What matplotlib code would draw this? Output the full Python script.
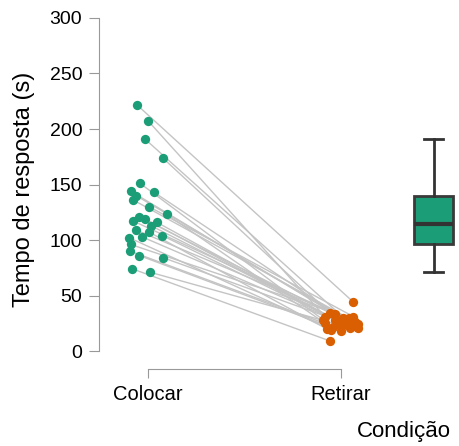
import matplotlib
matplotlib.use("Agg")
import matplotlib.pyplot as plt

plt.rcParams['font.family'] = ['Liberation Sans', 'DejaVu Sans']

# ---- data ----
categorias = ["Colocar", "Retirar"]
colocar = [222, 207, 191, 174, 151, 144, 140, 143, 136, 130, 123, 117, 121, 119,
           116, 113, 109, 107, 104, 103, 102, 96, 90, 86, 84, 74, 71]
retirar = [44, 31, 29, 34, 28, 33, 30, 26, 27, 31, 25, 24, 22, 28,
           21, 27, 26, 20, 23, 25, 19, 30, 22, 18, 21, 9, 24]
jitter_colocar = [-0.059, 0.002, -0.016, 0.076, -0.041, -0.090, -0.062, 0.031, -0.076,
                  0.005, 0.097, -0.076, -0.047, -0.016, 0.045, 0.014, -0.062, 0.007,
                  0.074, -0.033, -0.097, -0.090, -0.093, -0.045, 0.079, -0.081, 0.010]
jitter_retirar = [0.064, -0.083, 0.020, -0.057, -0.092, -0.030, 0.010, 0.040, 0.065,
                  0.064, -0.083, 0.090, 0.083, -0.031, 0.046, -0.010, 0.072, -0.075,
                  0.030, 0.010, -0.050, 0.040, -0.040, 0.000, 0.085, -0.057, -0.020]

# box statistics (Colocar)
box_stats = [{"med": 114, "q1": 96.5, "q3": 139.5, "whislo": 71.5, "whishi": 191, "fliers": []}]

verde = "#1b9e77"
laranja = "#d95f02"
cinza = "#999999"

fig = plt.figure(figsize=(4.6, 4.46), dpi=100)
ax = fig.add_axes([99/460, (446-369)/446, (455-99)/460, (369-10)/446])

x0 = [0 + j for j in jitter_colocar]
x1 = [1 + j for j in jitter_retirar]

# linhas pareadas
for a, b, ya, yb in zip(x0, x1, colocar, retirar):
    ax.plot([a, b], [ya, yb], color="#c4c4c4", lw=1, zorder=1)

ax.scatter(x0, colocar, s=45, color=verde, zorder=3, linewidths=0)
ax.scatter(x1, retirar, s=45, color=laranja, zorder=3, linewidths=0)

# boxplot
ax.bxp(box_stats, positions=[1.48], widths=0.2, patch_artist=True, showfliers=False,
       boxprops=dict(facecolor=verde, edgecolor="#3a3a3a", linewidth=2),
       medianprops=dict(color="#333333", linewidth=3),
       whiskerprops=dict(color="#333333", linewidth=2),
       capprops=dict(color="#333333", linewidth=2),
       capwidths=0.1)

ax.set_xlim(-0.254, 1.59)
ax.set_ylim(-16.2, 307.2)

for s in ["top", "right"]:
    ax.spines[s].set_visible(False)
ax.spines["left"].set_bounds(0, 300)
ax.spines["bottom"].set_bounds(0, 1)
ax.spines["left"].set_color(cinza)
ax.spines["bottom"].set_color(cinza)

ax.set_yticks([0, 50, 100, 150, 200, 250, 300])
ax.set_xticks([0, 1])
ax.set_xticklabels(categorias)
ax.tick_params(axis="y", length=7, color=cinza, labelsize=14, pad=5)
ax.tick_params(axis="x", length=6.5, color=cinza, labelsize=14.5, pad=5)

ax.set_ylabel("Tempo de resposta (s)", fontsize=17)
ax.yaxis.set_label_coords((35-99)/356, 0.5)
fig.text(451/460, (446-432)/446, "Condição", ha="right", va="center", fontsize=16)

fig.savefig("out.png", dpi=100)
